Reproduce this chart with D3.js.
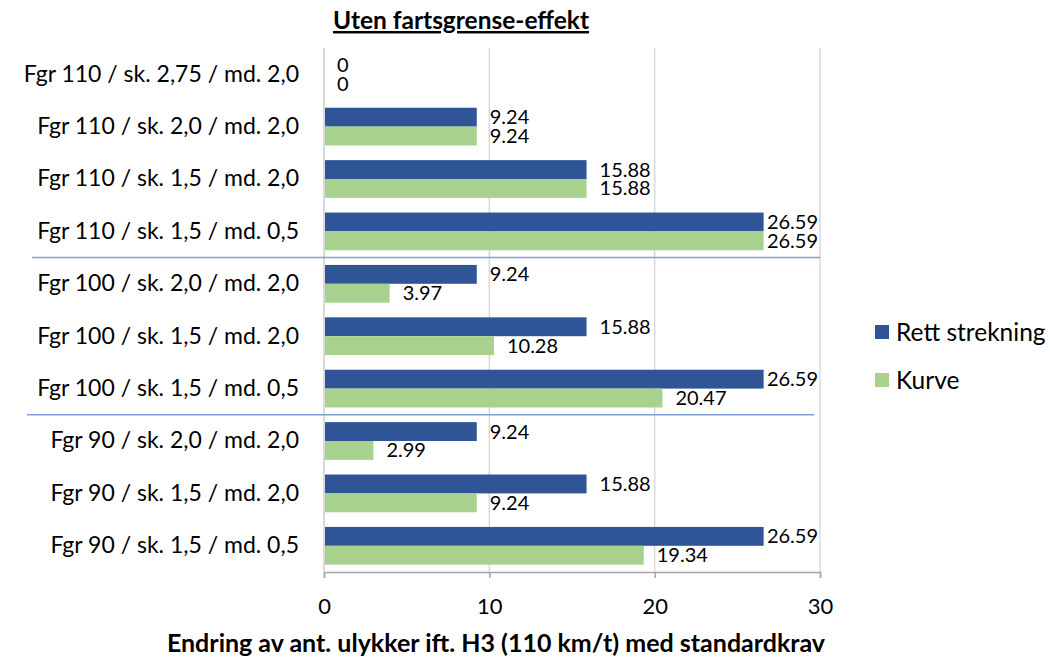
<!DOCTYPE html>
<html>
<head>
<meta charset="utf-8">
<script src="https://cdn.jsdelivr.net/npm/d3@7"></script>
<style>
  body { margin: 0; background: #fff; }
  text { font-family: Lato, 'Open Sans', sans-serif; fill: #000; }
</style>
</head>
<body>
<svg width="1050" height="657"></svg>
<script>
const categories = [
  'Fgr 110 / sk. 2,75 / md. 2,0',
  'Fgr 110 / sk. 2,0 / md. 2,0',
  'Fgr 110 / sk. 1,5 / md. 2,0',
  'Fgr 110 / sk. 1,5 / md. 0,5',
  'Fgr 100 / sk. 2,0 / md. 2,0',
  'Fgr 100 / sk. 1,5 / md. 2,0',
  'Fgr 100 / sk. 1,5 / md. 0,5',
  'Fgr 90 / sk. 2,0 / md. 2,0',
  'Fgr 90 / sk. 1,5 / md. 2,0',
  'Fgr 90 / sk. 1,5 / md. 0,5'
]
const rett = [0, 9.24, 15.88, 26.59, 9.24, 15.88, 26.59, 9.24, 15.88, 26.59]
const kurve = [0, 9.24, 15.88, 26.59, 3.97, 10.28, 20.47, 2.99, 9.24, 19.34]
const seriesNames = ['Rett strekning', 'Kurve']
const colors = ['#2F5597', '#A9D18E']
const xTicks = [0, 10, 20, 30]
// group separators sit after these category indexes
const separators = [3, 6]

const svg = d3.select('svg')
const margin = { top: 48, left: 324, right: 230, bottom: 85 }
const width = 1050 - margin.left - margin.right
const height = 657 - margin.top - margin.bottom
const g = svg.append('g').attr('transform', 'translate(' + margin.left + ',' + margin.top + ')')

const x = d3.scaleLinear().domain([0, 30]).range([0, width])
const y = d3.scaleBand().domain(categories).range([0, height]).paddingInner(0.28).paddingOuter(0.14)
const sub = d3.scaleBand().domain(seriesNames).range([0, y.bandwidth()])

// gridlines
g.selectAll('.grid')
  .data(xTicks.slice(1))
  .enter().append('line')
  .attr('x1', d => x(d)).attr('x2', d => x(d))
  .attr('y1', 0).attr('y2', height)
  .attr('stroke', '#D9D9D9').attr('stroke-width', 1.5)

// bars
const rows = categories.map((c, i) => ({ cat: c, vals: [rett[i], kurve[i]] }))
const row = g.selectAll('.row')
  .data(rows)
  .enter().append('g')
  .attr('transform', d => 'translate(0,' + y(d.cat) + ')')

row.selectAll('rect')
  .data(d => d.vals.map((v, k) => ({ v: v, s: seriesNames[k], k: k })))
  .enter().append('rect')
  .attr('x', 0)
  .attr('y', d => sub(d.s))
  .attr('width', d => x(d.v))
  .attr('height', sub.bandwidth())
  .attr('fill', d => colors[d.k])

// value labels, pushed back inside the plot when they would overflow (like Excel)
row.selectAll('.lbl')
  .data(d => d.vals.map((v, k) => ({ v: v, s: seriesNames[k] })))
  .enter().append('text')
  .attr('y', d => sub(d.s) + sub.bandwidth() / 2)
  .attr('dy', '0.35em')
  .style('font-size', '20px')
  .text(d => d.v === 0 ? '0' : d.v.toFixed(2))
  .attr('x', function (d) {
    const w = this.getComputedTextLength()
    return Math.min(x(d.v) + 13, width - 2 - w)
  })

// axes
const xAxis = g.append('g')
  .attr('transform', 'translate(0,' + height + ')')
  .call(d3.axisBottom(x).tickValues(xTicks).tickSize(6).tickPadding(20))
xAxis.select('.domain').attr('stroke', '#A6A6A6').attr('stroke-width', 1.5)
xAxis.selectAll('.tick line').attr('stroke', '#A6A6A6').attr('stroke-width', 1.5)
xAxis.selectAll('.tick text').style('font-size', '22px').style('font-family', 'Lato, sans-serif')

g.append('line')
  .attr('x1', 0).attr('x2', 0).attr('y1', 0).attr('y2', height)
  .attr('stroke', '#D9D9D9').attr('stroke-width', 2)

const yAxis = g.append('g').call(d3.axisLeft(y).tickSize(0).tickPadding(25))
yAxis.select('.domain').remove()
yAxis.selectAll('.tick text').style('font-size', '23px').style('font-family', 'Lato, sans-serif')

// separators
const sepStep = y.step()
separators.forEach((s, i) => {
  const yy = y(categories[s]) + y.bandwidth() + (sepStep - y.bandwidth()) / 2
  g.append('line')
    .attr('x1', i === 0 ? -292 : -297).attr('x2', i === 0 ? width : width - 6)
    .attr('y1', yy).attr('y2', yy)
    .attr('stroke', '#7F9FD8').attr('stroke-width', 1.5)
})

// title
svg.append('text')
  .attr('x', 461).attr('y', 29)
  .attr('text-anchor', 'middle')
  .style('font-size', '24.5px').style('font-weight', 'bold')
  .style('text-decoration', 'underline')
  .text('Uten fartsgrense-effekt')

svg.append('text')
  .attr('x', 496).attr('y', 652)
  .attr('text-anchor', 'middle')
  .style('font-size', '25px').style('font-weight', 'bold')
  .text('Endring av ant. ulykker ift. H3 (110 km/t) med standardkrav')

// legend
const legend = svg.append('g').attr('transform', 'translate(875,320)')
seriesNames.forEach((n, i) => {
  legend.append('rect')
    .attr('x', 0).attr('y', i * 48 + 5)
    .attr('width', 14).attr('height', 14)
    .attr('fill', colors[i])
  legend.append('text')
    .attr('x', 21).attr('y', i * 48 + 12)
    .attr('dy', '0.35em')
    .style('font-size', '24.5px')
    .text(n)
})
</script>
</body>
</html>
